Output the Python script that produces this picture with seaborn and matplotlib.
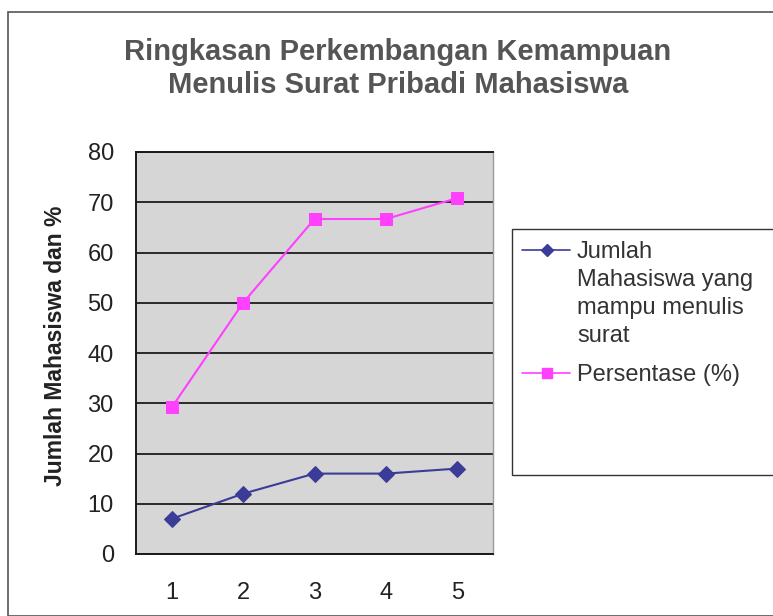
import matplotlib
matplotlib.use("Agg")
import matplotlib.pyplot as plt
from matplotlib.patches import Rectangle
from matplotlib.lines import Line2D
import pandas as pd
import seaborn as sns

# data
pertemuan = [1, 2, 3, 4, 5]
jumlah_mahasiswa = [7, 12, 16, 16, 17]
persentase = [29.17, 50.0, 66.67, 66.67, 70.83]
nama_seri = ["Jumlah\nMahasiswa yang\nmampu menulis\nsurat", "Persentase (%)"]
judul = "Ringkasan Perkembangan Kemampuan\nMenulis Surat Pribadi Mahasiswa"
label_y = "Jumlah Mahasiswa dan %"

warna = ["#3b3b98", "#ff40ff"]
penanda = ["D", "s"]

df = pd.DataFrame({
    "x": pertemuan * 2,
    "nilai": jumlah_mahasiswa + persentase,
    "seri": [nama_seri[0]] * 5 + [nama_seri[1]] * 5,
})

sns.set_style("white")
plt.rcParams["font.family"] = ["Liberation Sans", "DejaVu Sans"]

W, H = 773, 616
fig = plt.figure(figsize=(W / 100, H / 100), dpi=100)
fig.patch.set_facecolor("white")

# outer chart border
fig.patches.append(Rectangle((8 / W, 0), 1, 1 - 12 / H, transform=fig.transFigure,
                             fill=False, edgecolor="#555555", linewidth=1.2))

ax = fig.add_axes([136 / W, (H - 554) / H, (493 - 136) / W, (554 - 152) / H])
ax.set_facecolor("#d6d6d6")

for i, s in enumerate(nama_seri):
    sns.lineplot(data=df[df["seri"] == s], x="x", y="nilai", ax=ax, color=warna[i],
                 marker=penanda[i], markersize=8 if i == 0 else 9, linewidth=1.5,
                 markeredgecolor=warna[i], legend=False)

ax.set_xlim(0.5, 5.5)
ax.set_ylim(0, 80)
ax.set_yticks(range(0, 81, 10))
ax.set_xticks(pertemuan)
ax.set_xticks([p - 0.5 for p in pertemuan] + [5.5], minor=True)
ax.tick_params(axis="x", which="major", length=0, pad=20, labelsize=17, labelcolor="#222222")
ax.tick_params(axis="x", which="minor", length=6, width=1.2, color="black", direction="out")
ax.tick_params(axis="y", length=7, width=1.2, color="black", direction="out",
               pad=9, labelsize=17, labelcolor="#222222")
ax.yaxis.grid(True, color="#2a2a2a", linewidth=1.4)
ax.xaxis.grid(False)
ax.set_axisbelow(True)
for sp in ["left", "bottom", "top"]:
    ax.spines[sp].set_color("#1a1a1a")
    ax.spines[sp].set_linewidth(1.4)
ax.spines["right"].set_color("#9a9a9a")
ax.spines["right"].set_linewidth(1.0)
ax.set_xlabel("")
ax.set_ylabel("")

fig.text(56 / W, 1 - 346 / H, label_y, rotation=90, ha="center", va="center",
         fontsize=16.5, fontweight="bold", color="#222222")

fig.text(398 / W, 1 - 68.5 / H, judul, ha="center", va="center", fontsize=21,
         fontweight="bold", color="#555555", linespacing=1.2)

# legend box, drawn by hand so the first handle sits on the first text line
fig.patches.append(Rectangle((512 / W, (H - 475) / H), (776 - 512) / W, (475 - 229) / H,
                             transform=fig.transFigure, facecolor="white",
                             edgecolor="#333333", linewidth=1.0))
baris_y = [250, 373]
for i in range(2):
    y = 1 - baris_y[i] / H
    fig.add_artist(Line2D([522 / W, 570 / W], [y, y], transform=fig.transFigure,
                          color=warna[i], linewidth=1.2))
    fig.add_artist(Line2D([547 / W], [y], transform=fig.transFigure, color=warna[i],
                          marker=penanda[i], markersize=6 if i == 0 else 7, linestyle="none"))
    fig.text(577 / W, y + 9 / H, nama_seri[i], ha="left", va="top", fontsize=17,
             color="#333333", linespacing=1.36)

fig.savefig("out.png", dpi=100)
